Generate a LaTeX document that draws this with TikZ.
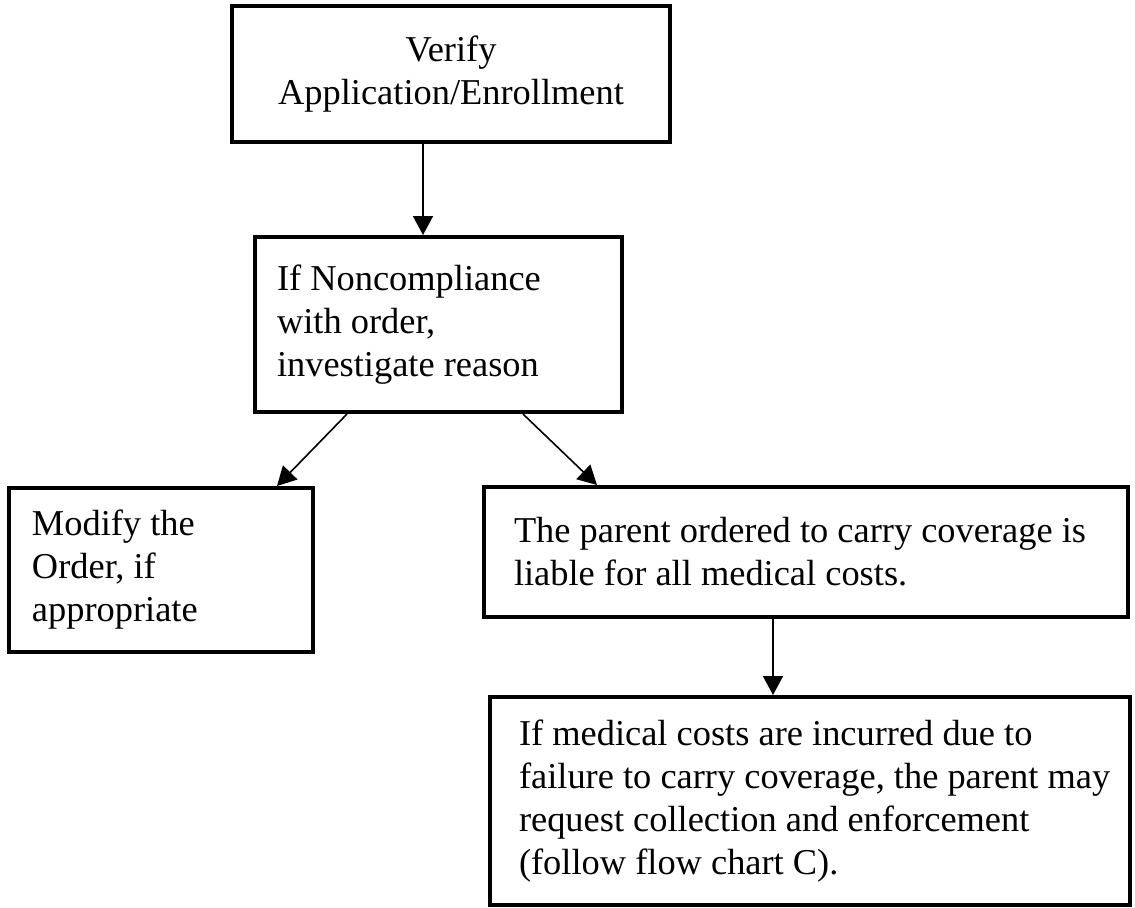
\documentclass[tikz,border=0pt]{standalone}
\usepackage{fontspec}
\setmainfont{Liberation Serif}
\usepackage{tikz}
\usetikzlibrary{arrows.meta}
\tikzstyle{box}=[draw, line width=2pt, inner ysep=2pt, font=\fontsize{18.2pt}{21.5pt}\selectfont]
\tikzstyle{lbox}=[box, align=flush left]
\tikzstyle{cbox}=[box, align=center]
\tikzstyle{arr}=[line width=0.8pt, -{Triangle[length=9.5pt, width=10pt]}]

\begin{document}
\begin{tikzpicture}[x=0.5pt, y=-0.5pt]
        \useasboundingbox (0,0) rectangle (1135,907);
        \node[cbox, inner xsep=10pt, text width=199pt, minimum height=68pt]   (verify) at (451, 74) {Verify\\Application/Enrollment};
        \node[lbox, inner xsep=11pt, text width=161.5pt, minimum height=87.5pt] (investigate) at (438.5, 324.5) {If Noncompliance\\with order,\\investigate reason};
        \node[lbox, inner xsep=11.5pt, text width=129pt, minimum height=82pt]   (modify) at (161, 570) {Modify the\\Order, if\\appropriate};
        \node[lbox, inner xsep=15pt, text width=292pt, minimum height=65pt]     (liable) at (806, 552) {\mbox{The parent ordered to carry coverage is}\\liable for all medical costs.};
        \node[lbox, inner xsep=14.5pt, text width=291pt, minimum height=104pt]  (collect) at (810, 801) {If medical costs are incurred due to\\\mbox{failure to carry coverage, the parent may}\\request collection and enforcement\\(follow flow chart C).};
        \coordinate (a1) at ([xshift=-14pt]verify.south);
        \coordinate (a4) at ([xshift=-16.5pt]liable.south);
        \draw[arr] (a1) -- (a1 |- investigate.north);
        \draw[arr] ([xshift=-45.75pt]investigate.south) -- ([xshift=58pt]modify.north);
        \draw[arr] ([xshift=42.25pt]investigate.south) -- ([xshift=-104.5pt]liable.north);
        \draw[arr] (a4) -- (a4 |- collect.north);
    \end{tikzpicture}
\end{document}
